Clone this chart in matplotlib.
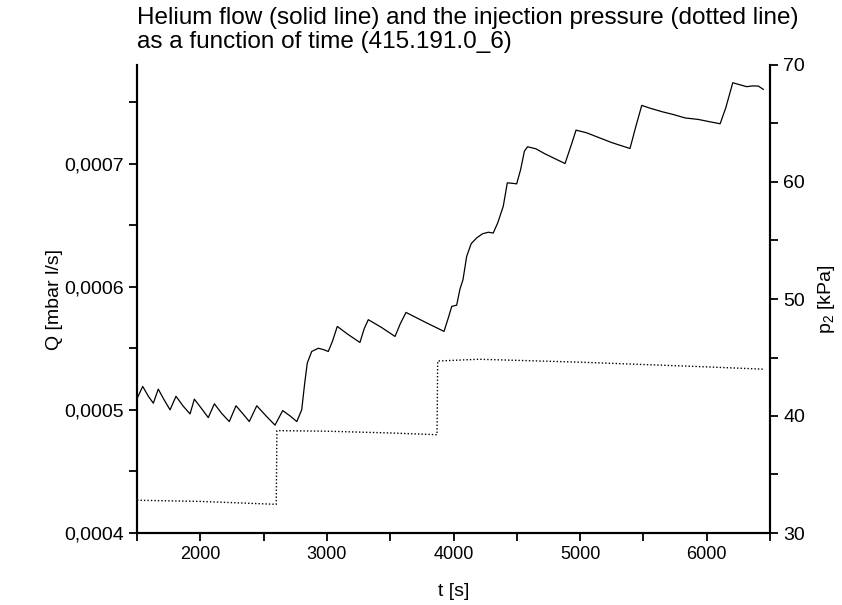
import matplotlib
matplotlib.use("Agg")
import matplotlib.pyplot as plt
from matplotlib.ticker import MultipleLocator

plt.rcParams['font.family'] = ['Liberation Sans', 'DejaVu Sans']
plt.rcParams['mathtext.fontset'] = 'custom'
plt.rcParams['mathtext.rm'] = 'Liberation Sans'
plt.rcParams['mathtext.it'] = 'Liberation Sans'

# Helium flow Q [mbar l/s] (solid line)
t_flow = [1500, 1545, 1590, 1629, 1668, 1715, 1761, 1808, 1865, 1919, 1953, 2010,
          2063, 2111, 2170, 2229, 2282, 2335, 2387, 2446, 2520, 2590, 2651, 2710,
          2762, 2801, 2825, 2845, 2880, 2932, 2970, 3011, 3045, 3082, 3170, 3261,
          3295, 3327, 3430, 3538, 3580, 3625, 3780, 3925, 3960, 3986, 4025, 4051,
          4075, 4104, 4140, 4183, 4230, 4275, 4314, 4350, 4393, 4425, 4460, 4499,
          4530, 4560, 4585, 4650, 4720, 4800, 4881, 4930, 4968, 5050, 5150, 5250,
          5394, 5440, 5487, 5550, 5650, 5736, 5830, 5934, 6020, 6106, 6150, 6206,
          6260, 6316, 6360, 6408, 6447]
q_flow = [0.000509, 0.000519, 0.000511, 0.0005054, 0.0005168, 0.000508, 0.0005,
          0.000511, 0.000503, 0.0004967, 0.0005087, 0.000501, 0.0004937, 0.0005049,
          0.000497, 0.0004905, 0.0005033, 0.000497, 0.0004905, 0.0005033, 0.000495,
          0.0004876, 0.0004994, 0.000495, 0.0004905, 0.0005, 0.000522, 0.000538,
          0.0005474, 0.00055, 0.000549, 0.0005474, 0.000556, 0.0005677, 0.000561,
          0.0005547, 0.000566, 0.0005732, 0.000567, 0.0005596, 0.000570, 0.0005791,
          0.000571, 0.0005637, 0.000575, 0.000584, 0.000585, 0.000598, 0.0006057,
          0.0006246, 0.000635, 0.0006396, 0.000643, 0.0006442, 0.0006436, 0.000652,
          0.0006653, 0.0006843, 0.000684, 0.0006835, 0.000695, 0.000710, 0.0007136,
          0.000712, 0.000708, 0.000704, 0.0007, 0.000715, 0.0007271, 0.000725,
          0.000721, 0.000717, 0.0007122, 0.00073, 0.0007472, 0.000745, 0.000742,
          0.0007398, 0.000737, 0.0007358, 0.000734, 0.0007323, 0.000745, 0.0007656,
          0.000764, 0.0007624, 0.000763, 0.0007629, 0.0007602]

# Injection pressure p2 [kPa] (dotted line)
t_press = [1500, 2000, 2600, 2605, 3000, 3500, 3870, 3875, 4200, 5000, 6000, 6450]
p_press = [32.8, 32.7, 32.45, 38.75, 38.7, 38.55, 38.4, 44.7, 44.85, 44.6, 44.2, 44.0]

q_ticks = [0.0004, 0.0005, 0.0006, 0.0007]
q_labels = ['0,0004', '0,0005', '0,0006', '0,0007']
p_ticks = [30, 40, 50, 60, 70]
t_ticks = [2000, 3000, 4000, 5000, 6000]

fig = plt.figure(figsize=(8.42, 6.05), dpi=100)
ax = fig.add_axes([137 / 842, 1 - 533 / 605, 633 / 842, 468 / 605])
ax2 = ax.twinx()

ax.plot(t_flow, q_flow, color='black', lw=0.9)
ax2.plot(t_press, p_press, color='black', lw=1.0, linestyle=(0, (1, 1.5)))

ax.set_xlim(1500, 6500)
ax.set_ylim(0.0004, 0.00078)
ax2.set_ylim(30, 70)

ax.set_xticks(t_ticks)
ax.set_yticks(q_ticks)
ax.set_yticklabels(q_labels)
ax2.set_yticks(p_ticks)
ax.xaxis.set_minor_locator(MultipleLocator(500))
ax.yaxis.set_minor_locator(MultipleLocator(0.00005))
ax2.yaxis.set_minor_locator(MultipleLocator(5))

for a in (ax, ax2):
    a.spines['top'].set_visible(False)
    for s in a.spines.values():
        s.set_linewidth(1.5)
    a.tick_params(which='both', direction='out', width=1.3, length=6)
ax.tick_params(axis='y', labelsize=14)
ax2.tick_params(axis='y', labelsize=14)
ax.tick_params(axis='x', labelsize=13)

ax.set_xlabel('t [s]', fontsize=14, labelpad=14)
ax.set_ylabel('Q [mbar l/s]', fontsize=14, labelpad=1)
ax2.set_ylabel('p$_2$ [kPa]', fontsize=14, labelpad=8)

fig.text(137 / 842, 1 - 18 / 605,
         'Helium flow (solid line) and the injection pressure (dotted line)',
         ha='left', va='center', fontsize=17.5)
fig.text(137 / 842, 1 - 42 / 605,
         'as a function of time (415.191.0_6)',
         ha='left', va='center', fontsize=17.5)

fig.savefig('out.png', dpi=100)
